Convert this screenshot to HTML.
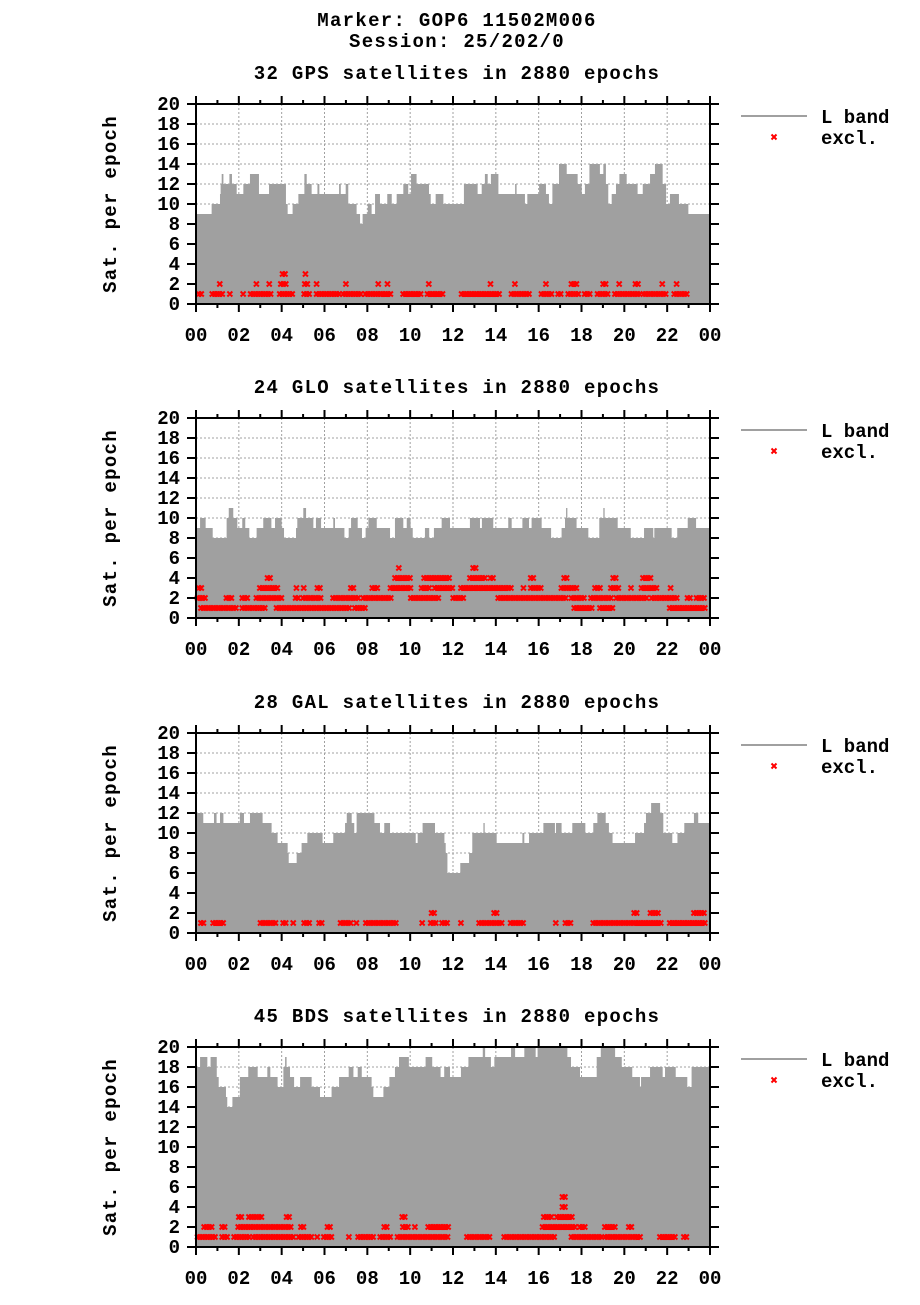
<!DOCTYPE html>
<html><head><meta charset="utf-8"><style>
html,body{margin:0;padding:0;background:#fff;}
svg text{font-family:"Liberation Mono",monospace;font-weight:bold;fill:#000;}
</style></head><body>
<svg id="chart" width="920" height="1300" viewBox="0 0 920 1300" xmlns="http://www.w3.org/2000/svg">
<text x="457" y="26" font-size="19" text-anchor="middle" letter-spacing="1.3">Marker: GOP6 11502M006</text>
<text x="457" y="47" font-size="19" text-anchor="middle" letter-spacing="1.3">Session: 25/202/0</text>
</svg>
<script>
// ---- data (hours / satellites) ----
const panelTitles = ["32 GPS satellites in 2880 epochs","24 GLO satellites in 2880 epochs","28 GAL satellites in 2880 epochs","45 BDS satellites in 2880 epochs"];
const yTicks = [0,2,4,6,8,10,12,14,16,18,20];
const xTicks = [0,2,4,6,8,10,12,14,16,18,20,22,24];
const xTickLabels = ["00","02","04","06","08","10","12","14","16","18","20","22","00"];

const gpsT = [0,0.73,1.12,1.15,1.2,1.28,1.56,1.68,1.9,2.21,2.52,2.94,3.41,4.2,4.28,4.51,4.78,5.06,5.17,5.4,5.67,5.76,6.68,6.76,6.99,7.11,7.5,7.66,7.78,8.02,8.2,8.36,8.59,8.93,9.14,9.37,9.68,9.91,10.04,10.3,10.88,10.96,11.19,11.55,12.51,13.15,13.34,13.49,13.62,13.77,14.12,14.9,14.97,15.36,15.47,16.02,16.34,16.48,16.64,16.95,17.31,17.82,18.01,18.16,18.37,18.86,19.02,19.14,19.25,19.41,19.61,19.77,20.11,20.62,20.86,21.2,21.43,21.79,21.95,22.13,22.55,22.99];
const gpsV = [9,10,11,12,13,12,13,12,11,12,13,11,12,10,9,10,11,13,12,11,12,11,12,11,12,10,9,8,9,10,9,11,10,11,10,11,12,11,13,12,11,10,11,10,12,11,12,13,12,13,11,12,11,10,11,12,11,10,12,14,13,12,11,12,14,13,14,12,10,11,12,13,12,11,12,13,14,12,10,11,10,9];
const gpsExStart = [0.06,0.69,1.51,2.13,2.48,3.84,4.98,5.56,6.8,7.84,9.6,10.74,12.33,14.66,16.06,16.84,17.31,18.08,18.68,19.49,20.81,22.26, 1.04,2.75,3.35,3.89,5.01,5.56,6.93,8.44,8.87,10.8,13.68,14.82,16.27,17.46,18.94,19.69,20.45,21.7,22.37, 3.97,5.04];
const gpsExEnd   = [0.37,1.35,1.74,2.33,3.56,4.67,5.45,6.8,7.81,9.21,10.57,11.63,14.27,15.72,16.73,17.18,18.01,18.52,19.33,20.81,22.05,23.03, 1.28,2.99,3.53,4.31,5.29,5.79,7.14,8.67,9.06,11.0,13.92,15.07,16.5,17.9,19.3,19.91,20.72,21.95,22.6, 4.27,5.24];
const gpsExLevel = [1,1,1,1,1,1,1,1,1,1,1,1,1,1,1,1,1,1,1,1,1,1, 2,2,2,2,2,2,2,2,2,2,2,2,2,2,2,2,2,2,2, 3,3];

const gloT = [0,0.19,0.45,0.78,1.43,1.53,1.74,1.93,2.16,2.3,2.49,2.83,3.14,3.52,3.69,4.0,4.11,4.67,4.73,5.01,5.14,5.48,5.6,5.84,6.41,6.49,6.93,7.13,7.24,7.55,7.75,7.92,8.05,8.44,9.06,9.29,9.68,9.84,10.02,10.12,10.69,10.89,11.11,11.47,11.86,12.79,13.26,13.35,13.88,14.58,14.74,15.24,15.55,15.67,16.14,16.58,17.07,17.23,17.28,17.34,17.77,18.32,18.83,19.02,19.08,19.69,20.3,20.92,21.35,21.4,22.21,22.47,22.96,23.35];
const gloV = [9,10,9,8,10,11,10,9,10,9,8,9,10,9,10,9,8,9,10,11,10,9,10,9,10,9,8,9,10,9,8,9,10,9,8,10,9,10,9,8,9,8,9,10,9,10,9,10,9,10,9,10,9,10,9,8,9,10,11,10,9,8,10,11,10,9,8,9,8,9,8,9,10,9];
const gloExStart = [0.16,2.09,3.69,7.35,17.59,18.79,22.05, 0,1.35,2.09,2.75,4.58,4.93,6.33,7.74,9.96,11.94,14.04,17.46,18.37,19.56,21.21,22.88,23.3, 0.06,2.91,4.62,4.96,5.6,7.16,8.16,9.01,10.46,11.08,12.3,15.22,15.56,16.99,18.56,19.3,20.24,20.73,22.09, 3.27,9.22,10.58,12.72,13.68,15.56,17.12,19.41,20.8, 9.4,12.87];
const gloExEnd   = [2.02,3.3,7.27,8.05,18.63,19.56,23.9, 0.53,1.82,2.55,4.16,4.86,5.91,7.66,9.21,11.39,12.56,17.34,18.21,19.56,21.12,22.6,23.19,23.9, 0.34,3.89,4.83,5.21,5.87,7.45,8.56,10.19,10.96,12.12,14.85,15.45,16.22,17.86,18.99,19.83,20.45,21.67,22.29, 3.58,10.15,11.94,13.62,13.96,15.9,17.43,19.72,21.32, 9.65,13.23];
const gloExLevel = [1,1,1,1,1,1,1, 2,2,2,2,2,2,2,2,2,2,2,2,2,2,2,2,2, 3,3,3,3,3,3,3,3,3,3,3,3,3,3,3,3,3,3,3, 4,4,4,4,4,4,4,4,4, 5,5];

const galT = [0,0.34,0.84,0.96,1.12,1.28,2.05,2.24,2.52,3.11,3.53,3.81,4.28,4.33,4.7,4.93,5.2,5.91,6.41,6.96,7.04,7.27,7.39,7.5,8.33,8.59,8.79,9.06,10.26,10.35,10.58,11.16,11.6,11.66,11.74,12.34,12.75,12.9,13.42,13.48,14.04,15.24,15.33,15.55,16.22,16.76,16.81,17.07,17.57,18.18,18.55,18.74,19.13,19.28,19.45,20.5,20.92,21.01,21.25,21.67,21.82,22.24,22.48,22.8,23.25,23.45];
const galV = [12,11,12,11,12,11,12,11,12,11,10,9,8,7,8,9,10,9,10,11,12,11,10,12,11,10,11,10,9,10,11,10,9,8,6,7,8,10,11,10,9,10,9,10,11,10,11,10,11,10,11,12,11,10,9,10,11,12,13,12,10,9,10,11,12,11];
const galExStart = [0.16,0.73,2.94,4.0,4.47,4.98,5.68,6.68,7.42,7.86,10.49,10.89,11.42,12.3,13.15,14.62,16.73,17.18,18.48,22.05, 10.93,13.85,20.39,21.15,23.18];
const galExEnd   = [0.42,1.35,3.89,4.36,4.7,5.45,5.95,7.32,7.66,9.49,10.74,11.27,11.81,12.53,14.43,15.41,16.95,17.62,21.82,23.9, 11.21,14.12,20.65,21.74,23.9];
const galExLevel = [1,1,1,1,1,1,1,1,1,1,1,1,1,1,1,1,1,1,1,1, 2,2,2,2,2];

const bdsT = [0,0.19,0.53,0.68,0.97,1.06,1.4,1.46,1.7,2.05,2.44,2.88,3.33,3.47,3.81,4.08,4.16,4.23,4.39,4.58,4.86,5.4,5.79,6.33,6.68,7.13,7.35,7.55,7.74,8.2,8.28,8.75,9.03,9.29,9.48,9.94,10.72,11.03,11.42,11.59,11.86,12.37,12.72,13.39,13.5,13.77,13.93,14.71,14.9,15.33,15.86,15.95,17.34,17.51,17.93,18.71,18.9,19.57,19.88,20.37,20.73,20.78,21.2,21.79,21.9,22.4,22.94,23.14];
const bdsV = [18,19,18,19,17,16,15,14,15,17,18,17,18,17,16,18,19,18,17,16,17,16,15,16,17,18,17,18,17,16,15,16,17,18,19,18,19,18,17,18,17,18,19,20,19,18,19,20,19,20,19,20,19,18,17,19,20,19,18,17,16,17,18,17,18,17,16,18];
const bdsExStart = [0,1.15,1.71,2.6,4.73,5.59,5.9,7.07,7.5,8.53,9.34,12.58,14.32,17.46,19.03,21.59,22.71, 0.31,1.15,1.9,4.83,6.07,8.72,9.59,10.15,10.77,16.11,17.85,19.02,20.14, 1.93,2.4,4.16,9.56,16.17,16.78, 17.04, 17.04];
const bdsExEnd   = [1.04,1.56,2.6,4.67,5.48,5.82,6.44,7.32,8.41,9.25,11.86,13.84,16.9,19.03,20.84,22.49,23.07, 0.86,1.51,4.54,5.14,6.37,9.03,9.99,10.4,11.91,17.85,18.31,19.69,20.47, 2.21,3.18,4.42,9.85,16.68,17.62, 17.35, 17.35];
const bdsExLevel = [1,1,1,1,1,1,1,1,1,1,1,1,1,1,1,1,1, 2,2,2,2,2,2,2,2,2,2,2,2,2, 3,3,3,3,3,3, 4, 5];

const panelT = [gpsT, gloT, galT, bdsT];
const panelV = [gpsV, gloV, galV, bdsV];
const panelExStart = [gpsExStart, gloExStart, galExStart, bdsExStart];
const panelExEnd = [gpsExEnd, gloExEnd, galExEnd, bdsExEnd];
const panelExLevel = [gpsExLevel, gloExLevel, galExLevel, bdsExLevel];
const panelKeys = ["gps","glo","gal","bds"];

// ---- drawing ----
const NS = "http://www.w3.org/2000/svg";
const svg = document.getElementById("chart");
const X0 = 196, X1 = 710, H = 200;
const tops = [104, 418, 733, 1047];
function mk(tag, attrs, parent) {
  const e = document.createElementNS(NS, tag);
  for (const k in attrs) e.setAttribute(k, attrs[k]);
  (parent || svg).appendChild(e);
  return e;
}
function xs(h) { return X0 + (X1 - X0) * h / 24; }

for (let p = 0; p < 4; p++) {
  const top = tops[p], bot = top + H;
  const ys = v => bot - v * H / 20;
  const g = mk("g", {});
  
  

  const title = mk("text", {x: 457, y: top - 25, "font-size": 19, "text-anchor": "middle", "letter-spacing": 1.3}, g);
  title.textContent = panelTitles[p];
  
  

  // grid
  const grid = mk("g", {stroke: "#a0a0a0", "stroke-width": 1, "stroke-dasharray": "2,2"}, g);
  
  
  for (let i = 1; i < xTicks.length - 1; i++) mk("line", {x1: xs(xTicks[i]), x2: xs(xTicks[i]), y1: top, y2: bot}, grid);
  for (let i = 1; i < yTicks.length - 1; i++) mk("line", {x1: X0, x2: X1, y1: ys(yTicks[i]), y2: ys(yTicks[i])}, grid);

  // area
  const T = panelT[p], V = panelV[p];
  let d = "M" + xs(0) + "," + bot;
  for (let i = 0; i < T.length; i++) {
    const xa = xs(T[i]), xb = xs(i + 1 < T.length ? T[i + 1] : 24);
    d += " L" + xa + "," + ys(V[i]) + " L" + xb + "," + ys(V[i]);
  }
  d += " L" + xs(24) + "," + bot + " Z";
  const area = mk("path", {d: d, fill: "#a0a0a0"}, g);
  
  

  // excluded markers
  const S = panelExStart[p], E = panelExEnd[p], L = panelExLevel[p];
  let md = "";
  for (let i = 0; i < S.length; i++) {
    const a = xs(Math.min(24, S[i] + 0.07)), b = xs(Math.min(24, E[i]) - 0.07);
    const y = ys(L[i]);
    for (let x = a; x <= Math.max(a, b) + 0.01; x += 2.5) {
      md += "M" + (x - 2.5) + "," + (y - 2.5) + "l5,5M" + (x - 2.5) + "," + (y + 2.5) + "l5,-5";
    }
  }
  const marks = mk("path", {d: md, stroke: "#ff0000", "stroke-width": 2, fill: "none"}, g);
  
  

  // axes frame and ticks
  const ax = mk("g", {stroke: "#000", "stroke-width": 2, fill: "none"}, g);
  
  
  mk("rect", {x: X0, y: top, width: X1 - X0, height: H}, ax);
  for (let h = 0; h <= 24; h++) {
    const len = h % 2 === 0 ? 8 : 4;
    mk("line", {x1: xs(h), x2: xs(h), y1: top, y2: top - len}, ax);
    mk("line", {x1: xs(h), x2: xs(h), y1: bot, y2: bot + len}, ax);
  }
  for (let i = 0; i < yTicks.length; i++) {
    mk("line", {x1: X0, x2: X0 - 9, y1: ys(yTicks[i]), y2: ys(yTicks[i])}, ax);
    mk("line", {x1: X1, x2: X1 + 9, y1: ys(yTicks[i]), y2: ys(yTicks[i])}, ax);
  }
  // tick labels
  for (let i = 0; i < yTicks.length; i++) {
    const t = mk("text", {x: 180, y: ys(yTicks[i]) + 6, "font-size": 19, "text-anchor": "end"}, g);
    t.textContent = String(yTicks[i]);
    
    
  }
  for (let i = 0; i < xTicks.length; i++) {
    const t = mk("text", {x: xs(xTicks[i]), y: bot + 37, "font-size": 19, "text-anchor": "middle"}, g);
    t.textContent = xTickLabels[i];
    
    
  }
  const yl = mk("text", {x: 0, y: 0, "font-size": 19, "text-anchor": "middle", "letter-spacing": 1.3, transform: "translate(116," + (top + H / 2) + ") rotate(-90)"}, g);
  yl.textContent = "Sat. per epoch";
  
  

  // legend
  const lg = mk("g", {}, g);
  
  
  const ll = mk("line", {x1: 741, x2: 807, y1: top + 12, y2: top + 12, stroke: "#a0a0a0", "stroke-width": 2}, lg);
  
  
  const lt = mk("text", {x: 821, y: top + 19, "font-size": 19}, lg);
  lt.textContent = "L band";
  
  
  const lm = mk("path", {d: "M771.5," + (top + 30.5) + "l5,5M771.5," + (top + 35.5) + "l5,-5", stroke: "#ff0000", "stroke-width": 2}, lg);
  
  
  const et = mk("text", {x: 821, y: top + 40, "font-size": 19}, lg);
  et.textContent = "excl.";
  
  
}
</script>
</body></html>
